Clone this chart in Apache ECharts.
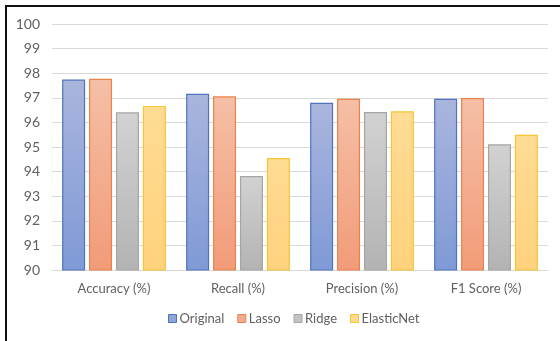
<!DOCTYPE html>
<html>
<head>
<meta charset="utf-8">
<script src="https://cdn.jsdelivr.net/npm/echarts@6/dist/echarts.min.js"></script>
<style>
  html, body { margin: 0; padding: 0; background: #fff; }
  #wrap { position: relative; width: 560px; height: 341px; overflow: hidden; background: #fff; }
  #frame { position: absolute; left: 5px; top: 5px; width: 600px; height: 400px; border: 2px solid #111; box-sizing: border-box; }
  #chart { position: absolute; left: 0; top: 0; width: 560px; height: 341px; }
</style>
</head>
<body>
<div id="wrap">
  <div id="frame"></div>
  <div id="chart"></div>
</div>
<script>
// Metric categories and per-model scores (%)
const categories = ['Accuracy (%)', 'Recall (%)', 'Precision (%)', 'F1 Score (%)'];
const original   = [97.74, 97.16, 96.80, 96.96];
const lasso      = [97.77, 97.06, 96.96, 96.99];
const ridge      = [96.41, 93.82, 96.42, 95.11];
const elasticNet = [96.67, 94.55, 96.45, 95.50];
const yTicks = { min: 90, max: 100, interval: 1 };

function grad(top, bottom) {
  return new echarts.graphic.LinearGradient(0, 0, 0, 1, [
    { offset: 0, color: top },
    { offset: 1, color: bottom }
  ]);
}

const seriesDefs = [
  { name: 'Original',   data: original,   fill: grad('#aab5dd', '#7f9ad6'), border: '#4f73be', icon: '#8fa5da' },
  { name: 'Lasso',      data: lasso,      fill: grad('#f5bfa6', '#f29b78'), border: '#e9834d', icon: '#f3ab8d' },
  { name: 'Ridge',      data: ridge,      fill: grad('#d2d2d2', '#b3b3b3'), border: '#a5a5a5', icon: '#c3c3c3' },
  { name: 'ElasticNet', data: elasticNet, fill: grad('#ffdb94', '#ffd27d'), border: '#f7c433', icon: '#ffd98c' }
];

const chart = echarts.init(document.getElementById('chart'), null, { renderer: 'canvas' });
const font = 'Lato, "Open Sans", sans-serif';
const textColor = '#606060';

chart.setOption({
  backgroundColor: 'transparent',
  animation: false,
  grid: { left: 52, right: 12, top: 24, bottom: 71 },
  legend: {
    bottom: 11,
    left: 163,
    itemWidth: 8,
    itemHeight: 8,
    itemGap: 13,
    icon: 'rect',
    textStyle: { color: textColor, fontSize: 13, fontFamily: font, padding: [0, 0, 0, -2] },
    data: seriesDefs.map(s => ({
      name: s.name,
      itemStyle: { color: s.icon, borderColor: s.border, borderWidth: 1 }
    }))
  },
  xAxis: {
    type: 'category',
    data: categories,
    axisLine: { show: true, lineStyle: { color: '#d9d9d9', width: 1 } },
    axisTick: { show: false },
    axisLabel: { color: textColor, fontSize: 13, fontFamily: font, margin: 12 }
  },
  yAxis: {
    type: 'value',
    min: yTicks.min,
    max: yTicks.max,
    interval: yTicks.interval,
    axisLine: { show: false },
    axisTick: { show: false },
    splitLine: { lineStyle: { color: '#d9d9d9', width: 1 } },
    axisLabel: { color: textColor, fontSize: 14, fontFamily: font, margin: 12 }
  },
  series: seriesDefs.map(s => ({
    name: s.name,
    type: 'bar',
    data: s.data,
    barWidth: 23,
    barGap: '17%',
    itemStyle: { color: s.fill, borderColor: s.border, borderWidth: 1.2 }
  }))
});
</script>
</body>
</html>
